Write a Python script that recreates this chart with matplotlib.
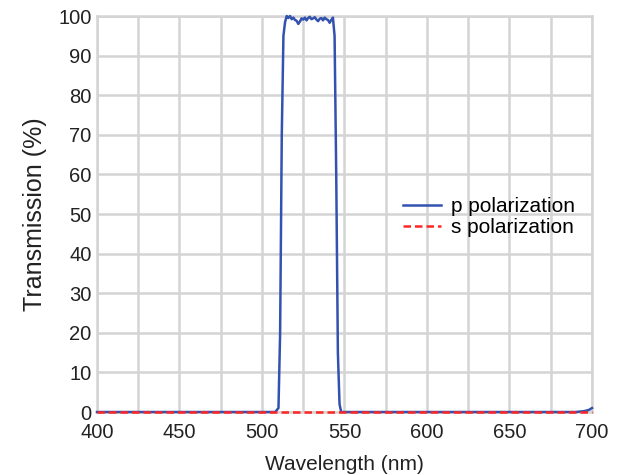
import matplotlib.pyplot as plt

plt.rcParams['font.family'] = ['Liberation Sans', 'DejaVu Sans']

# Dane
wl_p = [400, 450, 500, 508, 510, 511, 512, 513, 514, 515, 516, 517, 518, 519,
        520, 521, 522, 523, 524, 525, 526, 527, 528, 529, 530, 531, 532, 533,
        534, 535, 536, 537, 538, 539, 540, 541, 542, 543, 544, 545, 546, 547,
        548, 550, 600, 650, 690, 695, 698, 700]
t_p = [0, 0, 0, 0, 1, 20, 70, 95, 98.5, 100, 99.5, 100, 99.2, 99.6,
       99.0, 98.8, 98.0, 98.6, 99.4, 99.1, 99.6, 98.9, 99.5, 99.8, 99.2, 99.4, 99.7, 99.1,
       98.7, 99.3, 99.5, 98.9, 99.6, 99.2, 99.0, 98.3, 99.0, 99.6, 95, 60, 15, 2,
       0, 0, 0, 0, 0, 0.2, 0.5, 1.0]
wl_s = [400, 500, 600, 700]
t_s = [0, 0, 0, 0]

fig = plt.figure(figsize=(6.24, 4.75), dpi=100)
ax = fig.add_axes([0.1554, 0.1326, 0.7933, 0.8337])

ax.plot(wl_p, t_p, color='#3352b0', lw=1.8, label='p polarization', clip_on=False, zorder=3)
ax.plot(wl_s, t_s, color='#ff2626', lw=1.8, ls=(0, (3, 1.6)), label='s polarization',
        clip_on=False, zorder=4)

ax.set_xlim(400, 700)
ax.set_ylim(0, 100)
ax.set_xticks(range(400, 701, 25))
ax.set_xticklabels([str(v) if v % 50 == 0 else '' for v in range(400, 701, 25)])
ax.set_yticks(range(0, 101, 10))
ax.tick_params(length=0, labelsize=14.5, labelcolor='#222222')
ax.tick_params(axis='x', pad=8)
ax.tick_params(axis='y', pad=4)
ax.grid(True, color='#d4d4d4', lw=1.8)
ax.set_axisbelow(True)
for s in ax.spines.values():
    s.set_color('#d4d4d4')
    s.set_linewidth(1.8)

ax.set_xlabel('Wavelength (nm)', fontsize=15, labelpad=9, color='#222222')
ax.set_ylabel('Transmission (%)', fontsize=18, labelpad=8, color='#222222')

ax.legend(loc='center left', bbox_to_anchor=(0.602, 0.492), frameon=False, fontsize=15,
          handlelength=1.8, labelspacing=0.1, handletextpad=0.5, borderaxespad=0)

fig.savefig('out.png', dpi=100)
